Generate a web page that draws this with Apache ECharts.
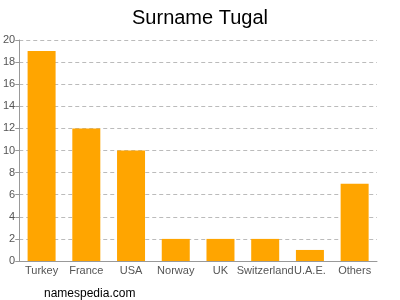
<!DOCTYPE html>
<html><head><meta charset="utf-8">
<script src="https://cdn.jsdelivr.net/npm/echarts@6/dist/echarts.min.js"></script>
<style>html,body{margin:0;padding:0;background:#fff}#c{width:400px;height:300px}</style>
</head><body><div id="c"></div>
<script>
const categories = ['Turkey','France','USA','Norway','UK','Switzerland','U.A.E.','Others'];
const counts = [19,12,10,2,2,2,1,7];
const chart = echarts.init(document.getElementById('c'));
chart.setOption({
  animation:false,
  title:[{text:'Surname Tugal',left:'center',top:3,textStyle:{fontFamily:'Liberation Sans, Arial',fontSize:20,fontWeight:'normal',color:'#000'}},
         {text:'namespedia.com',left:39,top:283,textStyle:{fontFamily:'Liberation Sans, Arial',fontSize:12,fontWeight:'normal',color:'#000'}}],
  grid:{left:18,right:23,top:40,bottom:39},
  xAxis:{type:'category',data:categories,
    axisLine:{lineStyle:{color:'#999'}},
    axisTick:{alignWithLabel:true,length:4,lineStyle:{color:'#999'}},
    axisLabel:{color:'#555',fontFamily:'Liberation Sans, Arial',fontSize:11,margin:4,interval:0}},
  yAxis:{type:'value',min:0,max:20,interval:2,
    axisLine:{show:true,lineStyle:{color:'#999'}},
    axisTick:{show:true,length:4,lineStyle:{color:'#999'}},
    axisLabel:{color:'#555',fontFamily:'Liberation Sans, Arial',fontSize:11,margin:4},
    splitLine:{lineStyle:{color:'#bbb',type:[4,3]}}},
  series:[{type:'bar',data:counts,barWidth:28,itemStyle:{color:'#FFA500'}}]
});
</script></body></html>
